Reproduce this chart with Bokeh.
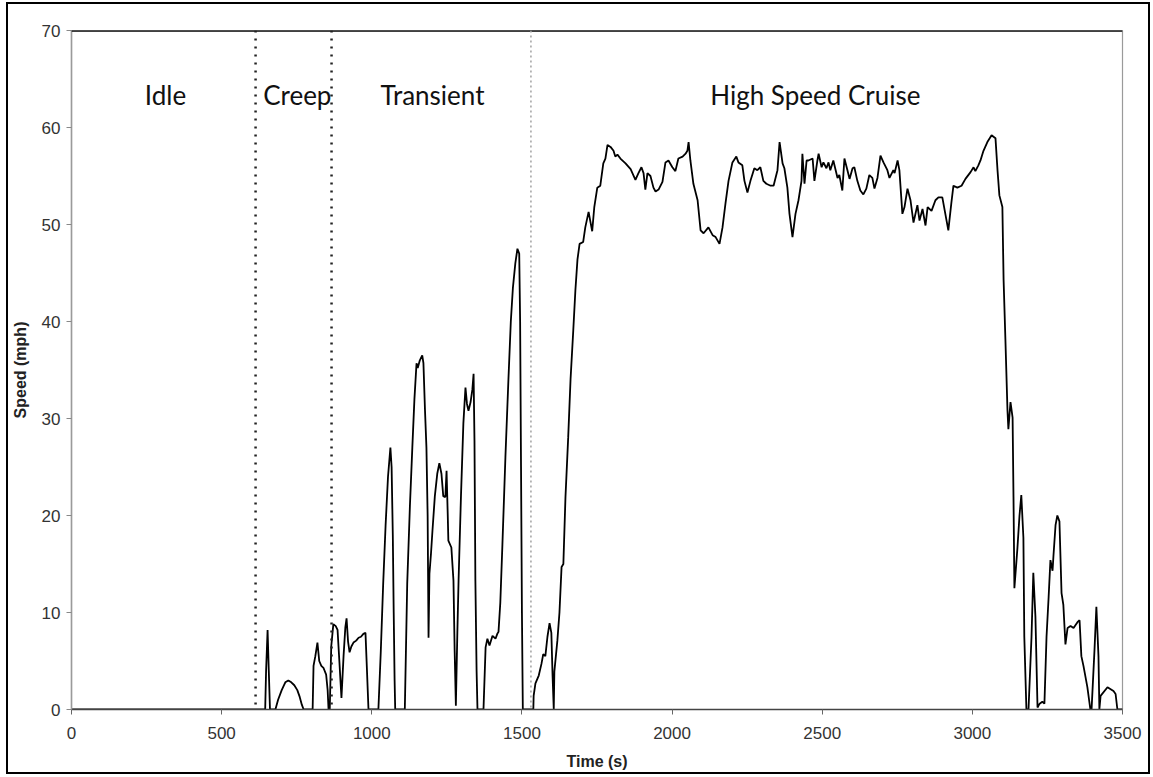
from bokeh.plotting import figure
from bokeh.layouts import column
from bokeh.models import Range1d, FixedTicker, Span
from bokeh.core.properties import value
from bokeh.embed import file_html
from bokeh.resources import INLINE

# ---- data ----
time_s = [0, 645, 648, 653, 657, 661, 679, 688, 700, 712, 722, 732, 742, 752, 760, 767, 773,
          803, 806, 812, 819, 825, 832, 839, 848, 853, 856, 860, 865, 872, 880, 886, 892, 899,
          906, 912, 916, 921, 926, 932, 939, 948, 956, 964, 972, 979, 984, 989,
          1022, 1030, 1038, 1046, 1054, 1062, 1066, 1070, 1073, 1076, 1078,
          1110, 1118, 1127, 1135, 1142, 1149, 1153, 1160, 1168, 1172, 1177, 1182, 1186, 1189,
          1192, 1197, 1202, 1210, 1218, 1225, 1232, 1238, 1245, 1249, 1253, 1255, 1265, 1272,
          1276, 1280, 1285, 1289, 1297, 1305, 1312, 1317, 1322, 1329, 1335, 1339, 1342, 1345,
          1349, 1352, 1372, 1379, 1385, 1392, 1402, 1412, 1418, 1422, 1428, 1435, 1445, 1455,
          1463, 1470, 1478, 1485, 1491, 1494, 1497, 1500, 1503,
          1538, 1539, 1545, 1556, 1565, 1571, 1578, 1585, 1592, 1598, 1602, 1606, 1608, 1618,
          1625, 1632, 1638, 1645, 1654, 1662, 1671, 1678, 1685, 1692, 1704, 1711, 1722, 1734,
          1741, 1751, 1761, 1771, 1778, 1785, 1795, 1805, 1811, 1818, 1828, 1845, 1862, 1878,
          1888, 1898, 1905, 1911, 1918, 1928, 1938, 1945, 1955, 1968, 1978, 1988, 2001, 2011,
          2021, 2035, 2045, 2051, 2055, 2061, 2071, 2085, 2095, 2105, 2121, 2135, 2145, 2158,
          2168, 2178, 2188, 2201, 2214, 2221, 2234, 2241, 2251, 2261, 2274, 2284, 2294, 2304,
          2314, 2328, 2338, 2351, 2358, 2368, 2374, 2384, 2391, 2401, 2411, 2421, 2431, 2434,
          2441, 2448, 2454, 2468, 2474, 2484, 2488, 2498, 2504, 2514, 2521, 2527, 2537, 2551,
          2557, 2567, 2574, 2584, 2591, 2601, 2607, 2617, 2627, 2637, 2647, 2657, 2667, 2674,
          2684, 2694, 2704, 2717, 2724, 2737, 2741, 2751, 2757, 2767, 2774, 2784, 2794, 2804,
          2817, 2824, 2834, 2844, 2851, 2864, 2877, 2887, 2900, 2910, 2920, 2930, 2937, 2950,
          2964, 2977, 2994, 3004, 3010, 3020, 3027, 3037, 3050, 3064, 3077, 3084, 3090, 3100,
          3104, 3110, 3117, 3120, 3127, 3134, 3137, 3140, 3150, 3157, 3163, 3170, 3173, 3180,
          3187, 3197, 3203, 3210, 3217, 3224, 3233, 3240, 3247, 3254, 3260, 3267, 3270, 3277,
          3283, 3290, 3297, 3303, 3310, 3317, 3327, 3337, 3350, 3357, 3363, 3370, 3383, 3393,
          3397, 3407, 3413, 3420, 3423, 3427, 3450, 3470, 3477, 3483, 3500]
speed_mph = [0, 0, 4, 8.2, 4, 0, 0, 1.0, 2.0, 2.8, 3.0, 2.8, 2.5, 2.0, 1.3, 0.5, 0,
             0, 4.5, 5.5, 6.9, 5.0, 4.5, 4.3, 3.6, 2.0, 0, 0, 6.5, 8.8, 8.6, 8.2, 5.0, 1.2,
             5.5, 8.5, 9.4, 7.0, 5.9, 6.5, 6.9, 7.1, 7.4, 7.5, 7.8, 7.9, 4.0, 0,
             0, 6, 13, 19, 24, 27, 25, 18, 10, 3, 0,
             0, 13, 21, 27, 32, 35.7, 35.2, 36, 36.5, 35.7, 31, 27, 20, 7.4,
             14, 16, 18.4, 22, 24.3, 25.4, 24.3, 22, 21.9, 24.6, 20, 17.4, 16.7, 13.3,
             6, 0.4, 8, 13.3, 22, 29.5, 33.2, 31.5, 30.8, 31.7, 33, 34.6, 27.7, 13.3,
             4, 0, 0, 6.4, 7.3, 6.6, 7.6, 7.3, 7.8, 8.0, 11, 17, 26, 34,
             40, 43.5, 46, 47.5, 47, 40, 25, 10, 0,
             0, 1.4, 2.7, 3.5, 4.7, 5.7, 5.5, 7.5, 8.9, 7.9, 3.5, 0, 3.9, 7.1,
             10, 14.7, 15, 21.9, 28, 34.1, 39.1, 43.2, 46.4, 48, 48.2, 49.7, 51.3, 49.3,
             51.8, 53.8, 54, 56.3, 56.8, 58.2, 58, 57.6, 57, 57.2, 56.8, 56.3, 55.7, 54.6,
             55.3, 55.9, 55.3, 53.6, 55.3, 55, 53.8, 53.4, 53.6, 54.4, 56.4, 56.6, 55.9, 55.5,
             56.8, 57, 57.3, 57.6, 58.5, 56.6, 54.2, 52.5, 49.4, 49.1, 49.7, 48.9, 48.7, 48,
             49.7, 52.2, 54.5, 56.4, 57, 56.4, 56.1, 54.5, 53.3, 54.5, 55.8, 55.6, 55.9, 54.5,
             54.2, 54, 54, 55.6, 58.5, 56.3, 55.8, 53.8, 51.1, 48.7, 51.1, 52.5, 54.5, 57.3,
             54.2, 56.6, 56.6, 56.8, 54.5, 56.6, 57.3, 55.9, 56.4, 55.8, 56.4, 55.6, 56.6, 54.8,
             55.1, 53.5, 56.8, 55.6, 54.7, 55.8, 55.9, 54.5, 53.5, 53.1, 53.7, 55.1, 54.8, 53.7,
             54.8, 57.1, 56.4, 55.6, 54.8, 55.6, 55.3, 56.6, 55.6, 51.1, 51.8, 53.7, 52.5, 50.2,
             52, 50.4, 51.6, 49.9, 51.8, 51.4, 52.5, 52.8, 52.8, 51.1, 49.4, 52.2, 54, 53.8,
             54, 54.7, 55.4, 55.9, 55.5, 56.1, 56.6, 57.6, 58.5, 59.2, 58.9, 55.5, 53, 51.8,
             44.3, 38.2, 30.8, 28.9, 31.7, 30.1, 21.9, 12.5, 16.6, 20, 22.1, 17.7, 7.5, 0,
             0, 7.5, 14.1, 9.6, 0.2, 0.6, 0.8, 0.6, 7.5, 11.6, 15.4, 14.3, 15.8, 19,
             20, 19.4, 12, 10.8, 6.7, 8.4, 8.6, 8.4, 9, 9.2, 5.5, 4.5, 2.3, 0,
             0, 6.3, 10.6, 5.5, 0, 1.4, 2.3, 1.9, 1.6, 0, 0]

phase_names = ["Idle", "Creep", "Transient", "High Speed Cruise"]
phase_label_x = [313, 752, 1202, 2477]
phase_label_y = [63.4, 63.4, 63.4, 63.4]
phase_bounds = [613, 866, 1530]
x_ticks = [0, 500, 1000, 1500, 2000, 2500, 3000, 3500]
y_ticks = [0, 10, 20, 30, 40, 50, 60, 70]

p = figure(width=1140, height=768, output_backend="svg", toolbar_location=None,
           x_range=Range1d(0, 3500), y_range=Range1d(0, 70),
           min_border_left=63, min_border_right=26, min_border_top=26, min_border_bottom=63,
           background_fill_color="white", border_fill_color="white")

p.xgrid.visible = False
p.ygrid.visible = False
p.outline_line_color = "#9a9a9a"
p.outline_line_width = 1.2

for ax in (p.xaxis[0], p.yaxis[0]):
    ax.minor_tick_line_color = None
    ax.major_tick_in = 0
    ax.major_tick_out = 5
    ax.major_label_text_font = "Liberation Sans"
    ax.major_label_text_font_size = "17px"
    ax.major_label_text_color = "#333333"
    ax.axis_label_text_font = "Liberation Sans"
    ax.axis_label_text_font_style = "bold"
    ax.axis_label_text_font_size = "16px"
    ax.axis_label_text_color = "#222222"

p.xaxis.ticker = FixedTicker(ticks=x_ticks)
p.yaxis.ticker = FixedTicker(ticks=y_ticks)
p.xaxis.axis_label = "Time (s)"
p.yaxis.axis_label = "Speed (mph)"
p.xaxis.axis_line_color = "#444444"
p.xaxis.axis_line_width = 1.5
p.xaxis.major_tick_line_color = "#666666"
p.yaxis.axis_line_color = "#9a9a9a"
p.yaxis.axis_line_width = 1.5
p.yaxis.major_tick_line_color = "#888888"
p.xaxis.major_label_standoff = 12
p.yaxis.major_label_standoff = 6
p.xaxis.axis_label_standoff = 11
p.yaxis.axis_label_standoff = 10

# top frame edge (black)
p.add_layout(Span(location=y_ticks[-1], dimension="width", line_color="black", line_width=2.5))

# phase boundaries
p.add_layout(Span(location=phase_bounds[0], dimension="height", line_color="#222222",
                  line_width=2.5, line_dash="2 6"))
p.add_layout(Span(location=phase_bounds[1], dimension="height", line_color="#222222",
                  line_width=2.5, line_dash="2 6"))
p.add_layout(Span(location=phase_bounds[2], dimension="height", line_color="#a0a0a0",
                  line_width=1.5, line_dash="2 3"))

p.line(time_s, speed_mph, line_color="black", line_width=1.8)

p.text(x=phase_label_x, y=phase_label_y, text=phase_names,
       text_font=value("Lato"), text_font_size=value("26px"),
       text_align="center", text_baseline="alphabetic", text_color="#111111")

page = column(p, styles={"border": "2px solid black", "margin-left": "6px", "margin-top": "2px"})

open("out.html", "w").write(file_html(page, INLINE))
